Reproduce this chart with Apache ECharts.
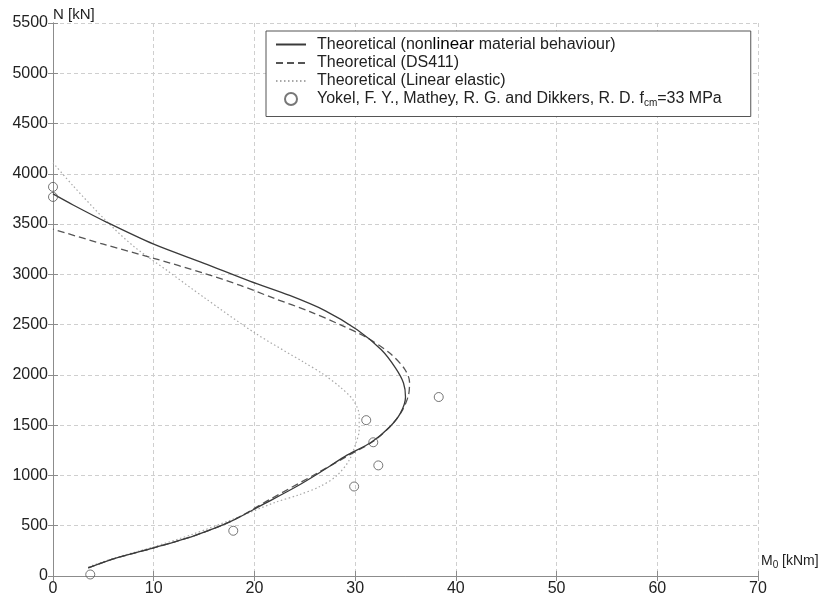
<!DOCTYPE html>
<html>
<head>
<meta charset="utf-8">
<script src="https://cdn.jsdelivr.net/npm/echarts@6/dist/echarts.min.js"></script>
<style>
  html, body { margin: 0; padding: 0; background: #fff; }
  #chart { width: 824px; height: 605px; }
</style>
</head>
<body>
<div id="chart"></div>
<script>
// Interaction curves: moment M0 [kNm] against axial load N [kN]
const nonlinearM = [3.5, 6, 10, 14, 17.6, 21, 24, 26.5, 29, 31.6, 33.4, 34.5, 35, 34.8, 34, 32.6, 30.2, 27, 23.5, 19.6, 15, 10, 5.3, 2, 0];
const nonlinearN = [80, 170, 280, 400, 540, 720, 880, 1030, 1190, 1330, 1480, 1620, 1780, 1920, 2070, 2250, 2450, 2640, 2790, 2930, 3110, 3300, 3520, 3690, 3800];

const ds411M = [3.5, 6, 10, 14, 17.6, 21.5, 26, 29, 31.8, 33.6, 34.7, 35.3, 35.4, 34.9, 33.4, 31, 28.5, 25.5, 22, 18.6, 15, 10, 5, 0];
const ds411N = [80, 170, 280, 400, 540, 760, 1010, 1180, 1340, 1500, 1650, 1800, 1930, 2060, 2220, 2380, 2500, 2630, 2760, 2890, 3010, 3160, 3300, 3450];

const elasticM = [3.5, 6, 10, 14, 18, 22, 24.5, 26.5, 28.2, 29.4, 30, 30.4, 30.4, 29.8, 28.5, 26.8, 25, 20, 15, 11.3, 8, 5.3, 2, 0];
const elasticN = [90, 175, 290, 420, 570, 730, 810, 890, 1000, 1150, 1300, 1450, 1600, 1750, 1880, 2010, 2120, 2420, 2770, 3040, 3280, 3530, 3880, 4110];

// Test results (Yokel, Mathey and Dikkers)
const testM = [0, 0, 3.7, 17.9, 29.9, 32.3, 31.8, 31.1, 38.3];
const testN = [3870, 3770, 15, 450, 890, 1100, 1330, 1550, 1780];

const xMin = 0, xMax = 70, xStep = 10;
const yMin = 0, yMax = 5500, yStep = 500;

const pairs = (xs, ys) => xs.map((v, i) => [v, ys[i]]);

const FONT = 'Liberation Sans, Arial, Helvetica, sans-serif';
const AXIS_COLOR = '#8c8c8c';
const TEXT_COLOR = '#222';

const gridLine = { show: true, lineStyle: { color: '#cfcfcf', type: [4, 3], width: 1 } };
const frameLine = { show: true, lineStyle: { color: AXIS_COLOR, width: 1 } };
const innerTick = { show: true, inside: true, length: 5, lineStyle: { color: AXIS_COLOR } };
const plainNumber = v => String(v);
const lineOnly = { opacity: 0 };

const chart = echarts.init(document.getElementById('chart'), null, { renderer: 'canvas' });

chart.setOption({
  animation: false,
  backgroundColor: '#fff',
  textStyle: { fontFamily: FONT },
  grid: { left: 53, top: 23, width: 705, height: 553, containLabel: false },
  xAxis: [
    {
      type: 'value', position: 'bottom', min: xMin, max: xMax, interval: xStep,
      axisLine: frameLine, axisTick: innerTick, splitLine: gridLine,
      axisLabel: { color: TEXT_COLOR, fontSize: 16, margin: 5, fontFamily: FONT, formatter: plainNumber },
      name: 'M{s|0} [kNm]', nameLocation: 'end', nameGap: 3, nameMoveOverlap: false,
      nameTextStyle: {
        color: TEXT_COLOR, fontSize: 14, fontFamily: FONT, align: 'left', verticalAlign: 'bottom',
        padding: [0, 0, 6, 0],
        rich: { s: { fontSize: 10, color: TEXT_COLOR, fontFamily: FONT, padding: [8, 0, 0, 0] } }
      }
    },
    {
      type: 'value', position: 'top', min: xMin, max: xMax, interval: xStep,
      axisLine: frameLine, axisTick: innerTick, axisLabel: { show: false }, splitLine: { show: false }
    }
  ],
  yAxis: [
    {
      type: 'value', position: 'left', min: yMin, max: yMax, interval: yStep,
      axisLine: frameLine, axisTick: innerTick, splitLine: gridLine,
      axisLabel: { color: TEXT_COLOR, fontSize: 16, margin: 5, fontFamily: FONT, formatter: plainNumber },
      name: 'N [kN]', nameLocation: 'end', nameGap: 1, nameMoveOverlap: false,
      nameTextStyle: {
        color: TEXT_COLOR, fontSize: 15, fontFamily: FONT, align: 'left', verticalAlign: 'bottom'
      }
    },
    {
      type: 'value', position: 'right', min: yMin, max: yMax, interval: yStep,
      axisLine: frameLine, axisTick: innerTick, axisLabel: { show: false }, splitLine: { show: false }
    }
  ],
  legend: {
    orient: 'vertical', left: 266, top: 31,
    padding: [5, 29, 8, 9],
    backgroundColor: '#fff', borderColor: '#555', borderWidth: 1,
    itemWidth: 30, itemHeight: 12, itemGap: 2,
    selectedMode: false,
    textStyle: {
      color: TEXT_COLOR, fontSize: 16, fontFamily: FONT,
      rich: {
        gap: { width: 6 },
        lin: { fontSize: 17, color: '#000', backgroundColor: '#fff', fontFamily: FONT },
        sub: { fontSize: 10, color: TEXT_COLOR, fontFamily: FONT, verticalAlign: 'bottom', padding: [9, 0, 0, 0] }
      }
    },
    data: [
      { name: 'nonlinear', itemStyle: lineOnly },
      { name: 'ds411', itemStyle: lineOnly },
      { name: 'elastic', itemStyle: lineOnly },
      { name: 'test' }
    ],
    formatter: function (n) {
      if (n === 'nonlinear') return '{gap|}Theoretical (non{lin|linear} material behaviour)';
      if (n === 'ds411') return '{gap|}Theoretical (DS411)';
      if (n === 'elastic') return '{gap|}Theoretical (Linear elastic)';
      return '{gap|}Yokel, F. Y., Mathey, R. G. and Dikkers, R. D. f{sub|cm}=33 MPa';
    }
  },
  series: [
    {
      name: 'nonlinear', type: 'line', data: pairs(nonlinearM, nonlinearN),
      smooth: 0.3, symbol: 'none', z: 4,
      lineStyle: { color: '#3a3a3a', width: 1.3, type: 'solid' },
      itemStyle: { color: '#3a3a3a' }
    },
    {
      name: 'ds411', type: 'line', data: pairs(ds411M, ds411N),
      smooth: 0.3, symbol: 'none', z: 3,
      lineStyle: { color: '#555', width: 1.3, type: [7, 4] },
      itemStyle: { color: '#555' }
    },
    {
      name: 'elastic', type: 'line', data: pairs(elasticM, elasticN),
      smooth: 0.3, symbol: 'none', z: 2,
      lineStyle: { color: '#a8a8a8', width: 1.2, type: [1.5, 2.5] },
      itemStyle: { color: '#a8a8a8' }
    },
    {
      name: 'test', type: 'scatter', data: pairs(testM, testN),
      symbol: 'circle', symbolSize: 9, z: 5,
      itemStyle: { color: 'rgba(255,255,255,0)', borderColor: '#555', borderWidth: 1 }
    }
  ]
});
</script>
</body>
</html>
